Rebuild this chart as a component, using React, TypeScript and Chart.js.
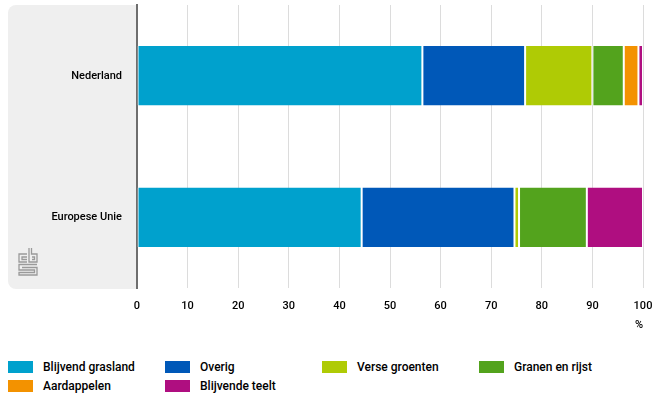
import React, { useEffect, useRef } from "react";
import { Chart, registerables } from "chart.js";

Chart.register(...registerables);

const categories = ["Nederland", "Europese Unie"];
const seriesNames = [
  "Blijvend grasland",
  "Overig",
  "Verse groenten",
  "Granen en rijst",
  "Aardappelen",
  "Blijvende teelt",
];
const blijvendGrasland = [56.4, 44.4];
const overig = [20.3, 30.2];
const verseGroenten = [13.3, 0.9];
const granenEnRijst = [6.2, 13.4];
const aardappelen = [2.9, 0];
const blijvendeTeelt = [0.9, 11.1];
const seriesValues = [blijvendGrasland, overig, verseGroenten, granenEnRijst, aardappelen, blijvendeTeelt];
const seriesColors = ["#00a1cd", "#0058b8", "#afcb05", "#53a31d", "#f39200", "#af0e80"];
const xTickValues = [0, 10, 20, 30, 40, 50, 60, 70, 80, 90, 100];
const unitLabel = "%";

const FONT = "Roboto, 'Noto Sans', sans-serif";

const panelPlugin = {
  id: "panel",
  beforeDraw(chart: any) {
    const { ctx, chartArea } = chart;
    const x0 = 8;
    const y0 = chartArea.top;
    const x1 = chartArea.left;
    const y1 = chartArea.bottom + 1;
    ctx.save();
    ctx.fillStyle = "#efefef";
    ctx.beginPath();
    ctx.roundRect(x0, y0, x1 - x0, y1 - y0, [8, 0, 0, 8]);
    ctx.fill();
    // simplified logo
    ctx.strokeStyle = "#9a9a9a";
    ctx.lineWidth = 1.3;
    const lx = 19, ly = y1 - 41;
    ctx.beginPath();
    // c
    ctx.moveTo(lx + 8, ly + 6);
    ctx.lineTo(lx, ly + 6);
    ctx.lineTo(lx, ly + 14);
    ctx.lineTo(lx + 8, ly + 14);
    ctx.moveTo(lx + 8, ly + 9);
    ctx.lineTo(lx + 3, ly + 9);
    ctx.lineTo(lx + 3, ly + 11.5);
    ctx.lineTo(lx + 8, ly + 11.5);
    // b
    ctx.moveTo(lx + 10, ly);
    ctx.lineTo(lx + 10, ly + 14);
    ctx.lineTo(lx + 18, ly + 14);
    ctx.lineTo(lx + 18, ly + 6);
    ctx.lineTo(lx + 12.5, ly + 6);
    ctx.lineTo(lx + 12.5, ly);
    ctx.moveTo(lx + 13, ly + 9);
    ctx.lineTo(lx + 15.5, ly + 9);
    ctx.lineTo(lx + 15.5, ly + 11.5);
    ctx.lineTo(lx + 13, ly + 11.5);
    // s
    ctx.moveTo(lx + 18, ly + 16.5);
    ctx.lineTo(lx, ly + 16.5);
    ctx.lineTo(lx, ly + 22);
    ctx.lineTo(lx + 15.5, ly + 22);
    ctx.lineTo(lx + 15.5, ly + 24.5);
    ctx.lineTo(lx, ly + 24.5);
    ctx.lineTo(lx, ly + 27);
    ctx.lineTo(lx + 18, ly + 27);
    ctx.lineTo(lx + 18, ly + 19.5);
    ctx.lineTo(lx + 3, ly + 19.5);
    ctx.stroke();
    ctx.restore();
  },
};

export default function App() {
  const canvasRef = useRef<HTMLCanvasElement | null>(null);

  useEffect(() => {
    const canvas = canvasRef.current;
    if (!canvas) return;
    const chart = new Chart(canvas, {
      type: "bar",
      data: {
        labels: categories,
        datasets: seriesNames.map((name, i) => ({
          label: name,
          data: seriesValues[i],
          backgroundColor: seriesColors[i],
          borderColor: "rgba(255,255,255,0.75)",
          borderWidth: { left: 1, right: 1, top: 0, bottom: 0 },
          borderSkipped: false,
          categoryPercentage: 1,
          barPercentage: 0.42,
        })),
      },
      options: {
        indexAxis: "y",
        responsive: false,
        animation: false,
        layout: { padding: { left: 8, top: 5, right: 23, bottom: 0 } },
        plugins: {
          legend: { display: false },
          tooltip: { enabled: false },
        },
        scales: {
          x: {
            stacked: true,
            min: 0,
            max: 100,
            afterFit(scale: any) {
              scale.height = 57;
            },
            afterBuildTicks(scale: any) {
              scale.ticks = xTickValues.map((v) => ({ value: v }));
            },
            border: { display: false },
            grid: {
              color: "#dcdcdc",
              lineWidth: 1,
              drawTicks: false,
            },
            ticks: {
              padding: 12,
              color: "#000",
              font: { family: FONT, size: 11, weight: 500 },
            },
            title: {
              display: true,
              text: unitLabel,
              align: "end",
              color: "#000",
              font: { family: FONT, size: 11, weight: 500 },
              padding: { top: 0, bottom: 13 },
            },
          },
          y: {
            stacked: true,
            afterFit(scale: any) {
              scale.width = 129;
              scale.paddingTop = 0;
              scale.paddingBottom = 0;
            },
            border: { display: true, color: "#6e6e6e", width: 2 },
            grid: { display: false, drawTicks: false },
            ticks: {
              padding: 15,
              color: "#000",
              font: { family: FONT, size: 11, weight: 500 },
            },
          },
        },
      },
      plugins: [panelPlugin],
    });
    return () => chart.destroy();
  }, []);

  const legendItem = (i: number, left: number, top: number) => (
    <div
      key={i}
      style={{
        position: "absolute",
        left,
        top,
        height: 12,
        display: "flex",
        alignItems: "center",
        whiteSpace: "nowrap",
      }}
    >
      <span
        style={{
          display: "inline-block",
          width: 25,
          height: 12,
          background: seriesColors[i],
          marginRight: 10,
        }}
      />
      <span style={{ fontFamily: FONT, fontSize: 12, fontWeight: 500, color: "#000", lineHeight: "12px" }}>
        {seriesNames[i]}
      </span>
    </div>
  );

  const colX = [8, 165, 322, 479];
  const rowY = [361, 380];

  return (
    <div style={{ position: "fixed", left: 0, top: 0, width: 666, height: 399, background: "#fff" }}>
      <canvas ref={canvasRef} width={666} height={345} style={{ display: "block" }} />
      {seriesNames.map((_, i) => legendItem(i, colX[i % 4], rowY[Math.floor(i / 4)]))}
    </div>
  );
}
